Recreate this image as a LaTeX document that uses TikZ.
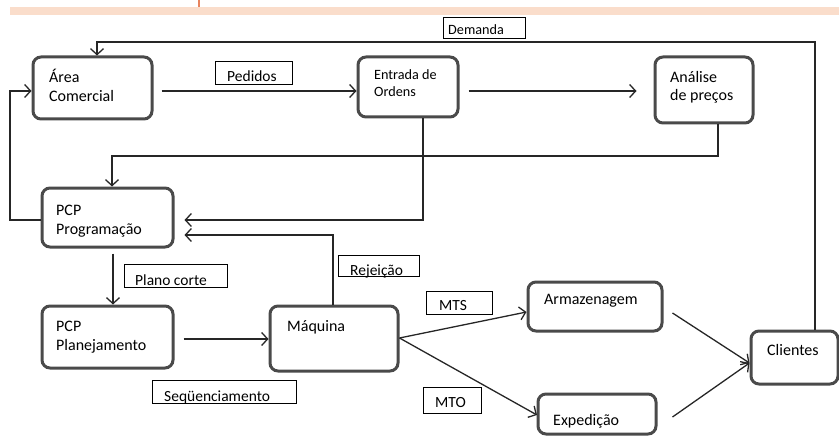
\documentclass[tikz,border=0pt]{standalone}
\usepackage{fontspec}
\setmainfont{Carlito}
\usetikzlibrary{arrows.meta}
\definecolor{band}{HTML}{FADDCB}
\definecolor{tick}{HTML}{E8845E}
\definecolor{boxline}{HTML}{4A4A4A}
\tikzset{
  procbox/.style={draw=boxline, line width=3pt, rounded corners=8pt, fill=white, inner sep=0pt},
  lblbox/.style={draw=black, line width=0.9pt, inner sep=0pt, anchor=north west},
  txt/.style={inner sep=0pt, anchor=base west, font=\fontsize{16}{18}\selectfont},
  smalltxt/.style={inner sep=0pt, anchor=base west, font=\fontsize{14.2}{17}\selectfont},
  lbltxt/.style={inner sep=0pt, anchor=base west, font=\fontsize{15.5}{18}\selectfont},
  conn/.style={draw=black!85, line width=1.3pt, -{Straight Barb[length=6pt,width=13pt,line width=1.3pt]}},
  plain/.style={draw=black!85, line width=1.3pt}
}
\begin{document}
\begin{tikzpicture}[x=1pt,y=-1pt]
\useasboundingbox (0,0) rectangle (839,436);
% header band
\fill[band] (10,7) rectangle (839,15);
\draw[tick, line width=2pt] (199,0) -- (199,7);

% process boxes
\node[procbox, minimum width=119pt, minimum height=62pt] (area) at (92.5,88) {};
\node[procbox, minimum width=100pt, minimum height=60pt] (entrada) at (408,87) {};
\node[procbox, minimum width=98pt, minimum height=66pt] (analise) at (704,90) {};
\node[procbox, minimum width=131pt, minimum height=59pt] (prog) at (107.5,217.5) {};
\node[procbox, minimum width=131pt, minimum height=62pt] (plan) at (107.5,337) {};
\node[procbox, minimum width=128pt, minimum height=65pt] (maquina) at (334,338.5) {};
\node[procbox, minimum width=134pt, minimum height=49pt] (armaz) at (595,306.5) {};
\node[procbox, minimum width=118pt, minimum height=40pt] (exped) at (597,414) {};
\node[procbox, minimum width=87pt, minimum height=53pt] (clientes) at (794.5,357.5) {};

% box texts
\node[txt] (tarea1) at (49,83) {Área};
\node[txt] (tarea2) at (49,102) {Comercial};
\node[smalltxt] (tent1) at (374,80) {Entrada de};
\node[smalltxt] (tent2) at (374,97) {Ordens};
\node[txt] (tana1) at (670,83) {Análise};
\node[txt] (tana2) at (670,101) {de preços};
\node[txt] (tprog1) at (56,215) {PCP};
\node[txt] (tprog2) at (56,234) {Programação};
\node[txt] (tplan1) at (56,331) {PCP};
\node[txt] (tplan2) at (56,350) {Planejamento};
\node[txt] (tmaq) at (287,331) {Máquina};
\node[txt] (tarm) at (544,304) {Armazenagem};
\node[txt] (texp) at (553,425) {Expedição};
\node[txt] (tcli) at (767,355) {Clientes};

% label boxes
\node[lblbox, minimum width=77pt, minimum height=23pt] (lped) at (215,61) {};
\node[lbltxt] (tped) at (227,82) {Pedidos};
\node[lblbox, minimum width=82pt, minimum height=21pt] (ldem) at (443,17) {};
\node[smalltxt] (tdem) at (448,35) {Demanda};
\node[lblbox, minimum width=103pt, minimum height=23pt] (lplano) at (124,264) {};
\node[lbltxt] (tplano) at (135,285) {Plano corte};
\node[lblbox, minimum width=81pt, minimum height=21pt] (lrej) at (338,255) {};
\node[lbltxt] (trej) at (350,275) {Rejeição};
\node[lblbox, minimum width=144pt, minimum height=23pt] (lseq) at (152,380) {};
\node[lbltxt] (tseq) at (164,401) {Seqüenciamento};
\node[lblbox, minimum width=66pt, minimum height=23pt] (lmts) at (426,291) {};
\node[lbltxt] (tmts) at (439,310) {MTS};
\node[lblbox, minimum width=58pt, minimum height=26pt] (lmto) at (423,387) {};
\node[lbltxt] (tmto) at (435,407) {MTO};

% connectors
\draw[conn] (clientes.north -| 815,0) |- (97,42) -- (area.north -| 97,0);
\draw[conn] ([xshift=8pt,yshift=-3pt]area.east) -- ([yshift=-3pt]area.east -| entrada.west);
\draw[conn] ([xshift=9pt,yshift=-4pt]entrada.east) -- ([xshift=-17pt]analise.west |- 0,91);
\draw[conn] (analise.south -| 718,0) |- (112,156) -- (prog.north -| 112,0);
\draw[conn] (entrada.south -| 423,0) |- ([xshift=10pt]prog.east |- 0,220);
\draw[conn] (prog.west |- 0,220) -| (10,91) -- (area.west |- 0,91);
\draw[conn] (maquina.north -| 333,0) |- ([xshift=10pt]prog.east |- 0,235);
\draw[conn] ([yshift=-5pt]prog.south -| 113,0) -- (plan.north -| 113,0);
\draw[conn] ([xshift=9pt]plan.east |- 0,339) -- (maquina.west |- 0,339);
\draw[conn] (maquina.east |- 0,338) -- (armaz.west |- 0,312);
\draw[conn] (maquina.east |- 0,338) -- (537,415) coordinate (expin);
\draw[conn] ([xshift=9pt]armaz.east |- 0,313) -- (clientes.west |- 0,363);
\draw[conn] ([xshift=15pt]exped.east |- 0,417) -- (clientes.west |- 0,363);
\end{tikzpicture}
\end{document}
